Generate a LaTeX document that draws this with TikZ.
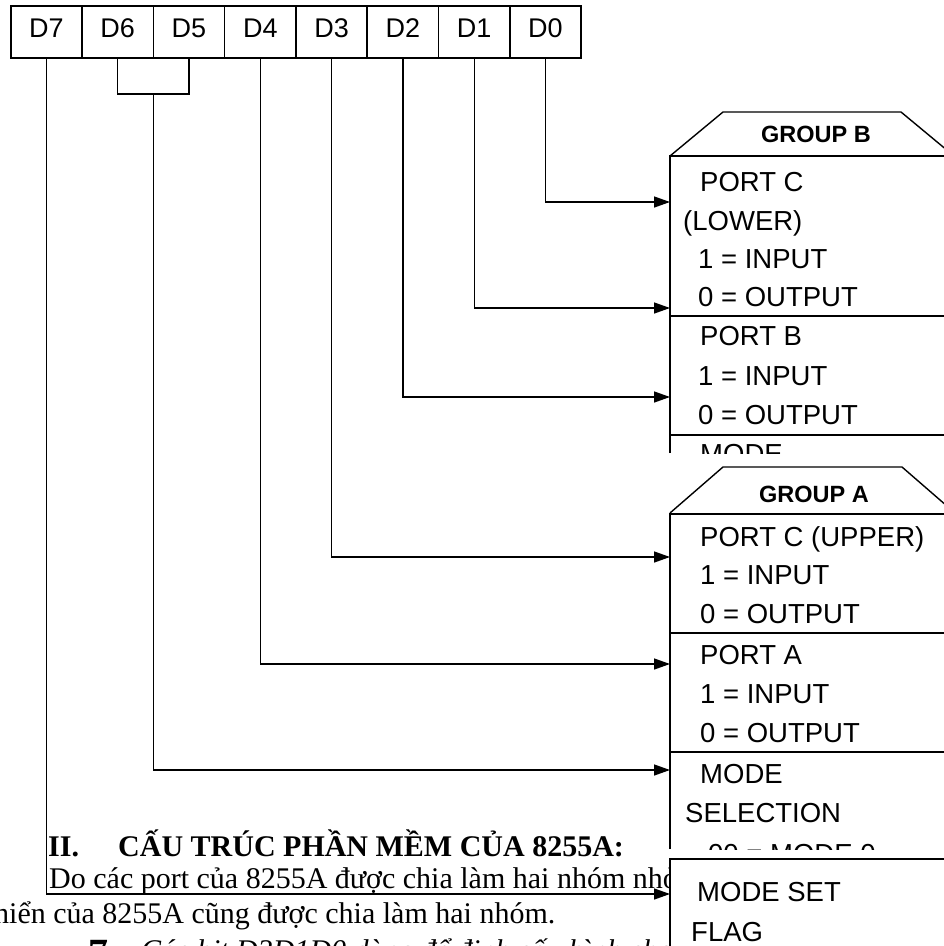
\documentclass[tikz,border=0pt]{standalone}
\usepackage{fontspec}
\setmainfont{Liberation Serif}
\newfontfamily\boxfont{Liberation Sans}
\usetikzlibrary{arrows.meta,positioning}

\begin{document}
\begin{tikzpicture}[
    x=1pt,
    y=-1pt,
    bitbox/.style={
        draw,
        line width=1.6pt,
        minimum width=71.3pt,
        minimum height=52pt,
        inner sep=0pt,
        outer sep=0pt,
        text height=19.3pt,
        text depth=7.4pt,
        font=\boxfont\fontsize{27}{32}\selectfont
    },
    wire/.style={line width=1.4pt},
    feed/.style={
        line width=1.4pt,
        -{Triangle[length=16pt,width=11pt]}
    },
    frame/.style={line width=1.8pt},
    field/.style={
        anchor=base west,
        inner sep=0pt,
        font=\boxfont\fontsize{27.5}{33}\selectfont
    },
    grouptitle/.style={
        anchor=base,
        inner sep=0pt,
        font=\boxfont\bfseries\fontsize{23.5}{28}\selectfont
    },
    body/.style={
        anchor=base west,
        inner sep=0pt,
        font=\fontsize{30}{36}\selectfont
    }
]

\useasboundingbox (0,0) rectangle (944,946);

% -------------------------------------------------
% Page text behind the diagram
% -------------------------------------------------

\node[body, font=\bfseries\fontsize{30}{36}\selectfont] (secno) at (48,856) {II.};
\node[body, font=\bfseries\fontsize{30}{36}\selectfont] (sectitle) at (118,856) {CẤU TRÚC PHẦN MỀM CỦA 8255A:};
\node[body] (para1) at (49,888) {Do các port của 8255A được chia làm hai nhóm nhỏ};
\node[body] (para2) at (-6,923) {hiển của 8255A cũng được chia làm hai nhóm.};
\node[body, font=\bfseries\fontsize{40}{44}\selectfont] (bullet) at (88,966) {7};
\node[body, font=\itshape\fontsize{30}{36}\selectfont] (para3) at (141,960) {Các bit D3D1D0 dùng để định cấu hình cho};

% -------------------------------------------------
% Control word D7 ... D0
% -------------------------------------------------

\node[bitbox] (d7) at (46.4,32) {D7};
\node[bitbox, right=0pt of d7] (d6) {D6};
\node[bitbox, right=0pt of d6] (d5) {D5};
\node[bitbox, right=0pt of d5] (d4) {D4};
\node[bitbox, right=0pt of d4] (d3) {D3};
\node[bitbox, right=0pt of d3] (d2) {D2};
\node[bitbox, right=0pt of d2] (d1) {D1};
\node[bitbox, right=0pt of d1] (d0) {D0};

% -------------------------------------------------
% Group B box
% -------------------------------------------------

\draw[wire] (670,156) -- (723,112) -- (901,112) -- (954,156);
\draw[frame] (670,453) -- (670,156) -- (960,156);
\draw[frame] (670,316) -- (960,316);
\draw[frame] (670,435) -- (960,435);

\node[grouptitle] (grpb) at (816,142) {GROUP B};

\begin{scope}
    \clip (671,157) rectangle (960,453);
    \node[field] (pcl) at (700,191) {PORT C};
    \node[field] (pcllow) at (683,230) {(LOWER)};
    \node[field] (pclin) at (698,268) {1 = INPUT};
    \node[field] (pclout) at (698,306) {0 = OUTPUT};
    \node[field] (pb) at (700,345) {PORT B};
    \node[field] (pbin) at (698,385) {1 = INPUT};
    \node[field] (pbout) at (698,424) {0 = OUTPUT};
    \node[field] (modeb) at (700,463) {MODE};
\end{scope}

% -------------------------------------------------
% Group A box
% -------------------------------------------------

\draw[wire] (670,513) -- (723,467) -- (902,467) -- (955,513);
\draw[frame] (670,849) -- (670,514) -- (960,514);
\draw[frame] (670,633) -- (960,633);
\draw[frame] (670,752) -- (960,752);

\node[grouptitle] (grpa) at (814,502) {GROUP A};

\begin{scope}
    \clip (671,515) rectangle (960,849);
    \node[field] (pcu) at (700,546) {PORT C (UPPER)};
    \node[field] (pcuin) at (700,584) {1 = INPUT};
    \node[field] (pcuout) at (700,623) {0 = OUTPUT};
    \node[field] (pa) at (700,664) {PORT A};
    \node[field] (pain) at (700,703) {1 = INPUT};
    \node[field] (paout) at (700,742) {0 = OUTPUT};
    \node[field] (modea) at (700,783) {MODE};
    \node[field] (modesel) at (685,822) {SELECTION};
    \node[field] (mode0) at (708,863) {00 = MODE 0};
\end{scope}

% -------------------------------------------------
% Mode set flag box
% -------------------------------------------------

\fill[white] (670,859) rectangle (960,960);
\draw[frame] (670,960) -- (670,859) -- (960,859);
\node[field] (modeset) at (697,901) {MODE SET};
\node[field] (flag) at (691,941) {FLAG};

% -------------------------------------------------
% Bit lines into the boxes
% -------------------------------------------------

\coordinate (tpcl) at (670,202);
\coordinate (tpclb) at (670,308);
\coordinate (tpb) at (670,397);
\coordinate (tpcu) at (670,557);
\coordinate (tpa) at (670,664);
\coordinate (tmode) at (670,770);
\coordinate (tflag) at (670,894);
\coordinate (join) at (153.5,94);

\draw[feed] (d0.south) |- (tpcl);
\draw[feed] (d1.south) |- (tpclb);
\draw[feed] (d2.south) |- (tpb);
\draw[feed] (d3.south) |- (tpcu);
\draw[feed] (d4.south) |- (tpa);
\draw[wire] (d6.south) |- (join) -| (d5.south);
\draw[feed] (join) |- (tmode);
\draw[feed] (d7.south) |- (tflag);

\end{tikzpicture}
\end{document}
